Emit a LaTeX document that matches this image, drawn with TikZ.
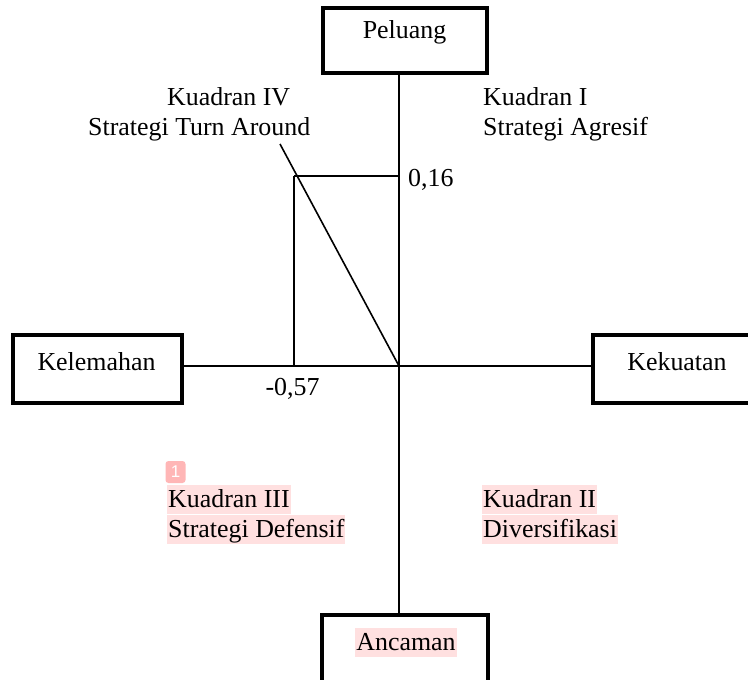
\documentclass[tikz,border=0pt]{standalone}
\usepackage{fontspec}
\setmainfont{Liberation Serif}
\newfontfamily\badgefont{Liberation Sans}
\definecolor{hlpink}{HTML}{FFE0E0}
\definecolor{badgepink}{HTML}{FFB6B6}
\begin{document}
\begin{tikzpicture}[x=1pt,y=-1pt,
  box/.style={draw, line width=4pt, inner sep=0pt, fill=white},
  lab/.style={font=\fontsize{25.9}{30}\selectfont, inner sep=0pt, anchor=base west},
  labc/.style={lab, anchor=base},
  hl/.style={lab, fill=hlpink, text height=22pt, text depth=7pt, inner xsep=1pt},
  axisline/.style={line width=1.5pt},
  thin/.style={line width=1.6pt}]
\clip (0,0) rectangle (748,680);
\fill[white] (0,0) rectangle (748,680);
% boxes
\node[box, minimum width=164pt, minimum height=65pt] (peluang) at (405,40.5) {};
\node[box, minimum width=169pt, minimum height=68pt] (kelemahan) at (97.5,369) {};
\node[box, minimum width=170pt, minimum height=68pt] (kekuatan) at (678,369) {};
\node[box, minimum width=166pt, minimum height=80pt] (ancaman) at (405,655) {};
% axes
\coordinate (o) at (399,366);
\draw[axisline] (o |- peluang.south) -- (o |- ancaman.north);
\draw[axisline] (kelemahan.east |- o) -- (kekuatan.west |- o);
% point lines
\coordinate (p) at (294,176);
\coordinate (ds) at (280,144);
\draw[thin] (p) -- (o |- p);
\draw[thin] (p) -- (p |- o);
\draw[thin] (ds) -- (o);
% box labels
\node[labc] (tpel) at (404.5,38) {Peluang};
\node[labc] (tkel) at (96.5,370) {Kelemahan};
\node[labc] (tkek) at (677,370) {Kekuatan};
\node[hl, anchor=base] (tanc) at (406,650) {Ancaman};
% values
\node[lab] (v16) at (408,186) {0,16};
\node[labc] (v57) at (292.5,395) {-0,57};
% quadrant labels
\node[lab] (k4a) at (167,105) {Kuadran IV};
\node[lab] (k4b) at (88,135) {Strategi Turn Around};
\node[lab] (k1a) at (483,105) {Kuadran I};
\node[lab] (k1b) at (483,135) {Strategi Agresif};
\node[hl] (k3a) at (167,507) {Kuadran III};
\node[hl] (k3b) at (167,537) {Strategi Defensif};
\node[hl] (k2a) at (482,507) {Kuadran II};
\node[hl] (k2b) at (482,537) {Diversifikasi};
% badge
\node[fill=badgepink, rounded corners=3pt, minimum width=20pt, minimum height=22pt, inner sep=0pt, text=white, font=\badgefont\fontsize{17}{17}\selectfont] (badge) at (175.5,472) {1};
\end{tikzpicture}
\end{document}
